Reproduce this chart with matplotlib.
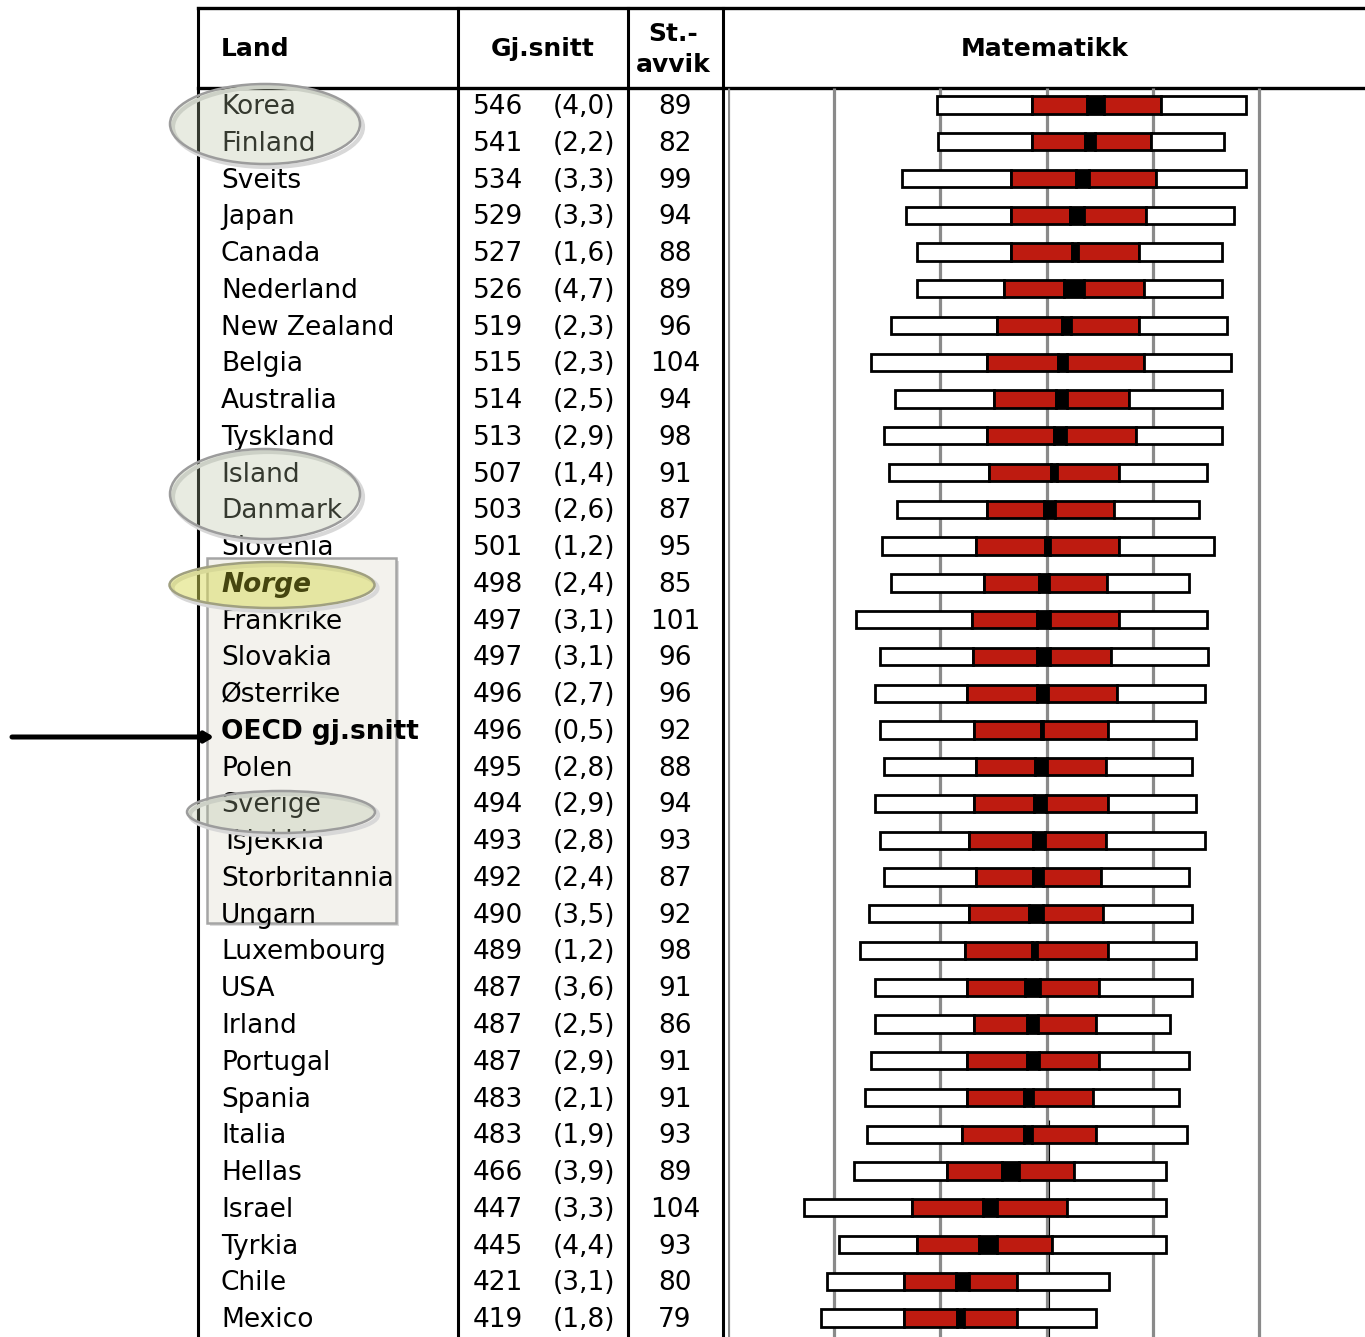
import matplotlib
matplotlib.use("Agg")
import matplotlib.pyplot as plt
from matplotlib.patches import Ellipse, Rectangle

countries = ["Korea", "Finland", "Sveits", "Japan", "Canada", "Nederland", "New Zealand",
             "Belgia", "Australia", "Tyskland", "Island", "Danmark", "Slovenia", "Norge",
             "Frankrike", "Slovakia", "Østerrike", "OECD gj.snitt", "Polen", "Sverige",
             "Tsjekkia", "Storbritannia", "Ungarn", "Luxembourg", "USA", "Irland", "Portugal",
             "Spania", "Italia", "Hellas", "Israel", "Tyrkia", "Chile", "Mexico"]
means = [546, 541, 534, 529, 527, 526, 519, 515, 514, 513, 507, 503, 501, 498, 497, 497, 496,
         496, 495, 494, 493, 492, 490, 489, 487, 487, 487, 483, 483, 466, 447, 445, 421, 419]
se = [4.0, 2.2, 3.3, 3.3, 1.6, 4.7, 2.3, 2.3, 2.5, 2.9, 1.4, 2.6, 1.2, 2.4, 3.1, 3.1, 2.7,
      0.5, 2.8, 2.9, 2.8, 2.4, 3.5, 1.2, 3.6, 2.5, 2.9, 2.1, 1.9, 3.9, 3.3, 4.4, 3.1, 1.8]
sd = [89, 82, 99, 94, 88, 89, 96, 104, 94, 98, 91, 87, 95, 85, 101, 96, 96, 92, 88, 94, 93,
      87, 92, 98, 91, 86, 91, 91, 93, 89, 104, 93, 80, 79]
p5 = [397, 398, 364, 368, 378, 378, 354, 335, 357, 347, 352, 359, 345, 354, 321, 343, 338,
      343, 347, 338, 343, 347, 333, 324, 338, 338, 335, 329, 331, 319, 272, 305, 293, 288]
p25 = [486, 486, 467, 467, 467, 460, 453, 444, 451, 444, 446, 444, 434, 441, 430, 431, 425,
       432, 434, 432, 427, 434, 427, 423, 425, 432, 425, 425, 420, 406, 373, 378, 366, 366]
p75 = [608, 598, 603, 594, 587, 592, 587, 592, 578, 584, 568, 564, 568, 557, 568, 561, 566,
       558, 556, 558, 556, 551, 553, 558, 549, 547, 549, 544, 547, 526, 519, 505, 472, 472]
p95 = [688, 667, 688, 677, 665, 665, 670, 674, 665, 665, 651, 644, 658, 634, 651, 652, 649,
       641, 637, 641, 649, 634, 637, 641, 637, 616, 634, 625, 632, 613, 613, 613, 559, 547]
grid_vals = [200, 300, 400, 500, 600, 700]
headers = ["Land", "Gj.snitt", "St.-", "avvik", "Matematikk"]

W, H = 1365, 1337
fig = plt.figure(figsize=(W / 100, H / 100), dpi=100)

# layout (pixels)
Y0, DY = 105.0, 36.76
X200, X800 = 728.0, 1365.0
HEAD_BOT, TOP = 88, 8
TY = 2.0  # text baseline nudge

tab = fig.add_axes([0, 0, 1, 1])
tab.set_xlim(0, W)
tab.set_ylim(H, 0)
tab.axis("off")

ax = fig.add_axes([X200 / W, 0, (X800 - X200) / W, 1])
ax.set_xlim(200, 800)
ax.set_ylim((H - Y0) / DY, -Y0 / DY)
ax.axis("off")

body = dict(family="DejaVu Sans", fontsize=19, color="black")

# grid lines in panel
y_top = (HEAD_BOT - Y0) / DY
y_bot = (H - Y0) / DY
ax.vlines(grid_vals, y_top, y_bot, colors="#8a8a8a", lw=2.3, zorder=1)
ax.vlines([502.4], (1120 - Y0) / DY, y_bot, colors="black", lw=0.8, zorder=1)

red = "#BE1B10"
bh = 0.47
elw = 2.0
for i in range(len(countries)):
    lo = means[i] - 1.96 * se[i]
    hi = means[i] + 1.96 * se[i]
    segs = [(p5[i], p25[i], "white"), (p25[i], lo, red), (lo, hi, "black"),
            (hi, p75[i], red), (p75[i], p95[i], "white")]
    for a, b, c in segs:
        ax.barh(i, b - a, left=a, height=bh, color=c, edgecolor="black", lw=elw, zorder=3)

# table lines
tab.plot([198, W], [TOP, TOP], color="black", lw=2.4)
tab.plot([198, W], [HEAD_BOT, HEAD_BOT], color="black", lw=2.4)
for x in [198, 458, 628, 723]:
    tab.plot([x, x], [TOP, H], color="black", lw=2.2, zorder=2)

# headers
hkw = dict(family="DejaVu Sans", fontsize=18, fontweight="bold", va="center")
tab.text(221, 49, headers[0], ha="left", **hkw)
tab.text(543, 49, headers[1], ha="center", **hkw)
tab.text(673, 34, headers[2], ha="center", **hkw)
tab.text(673, 65, headers[3], ha="center", **hkw)
tab.text(1045, 49, headers[4], ha="center", **hkw)

# highlight box with soft shadow
tab.add_patch(Rectangle((210, 561), 189, 365, facecolor="#dcdcdc", edgecolor="none", zorder=3.5))
tab.add_patch(Rectangle((207, 558), 189, 365, facecolor="#F3F2ED", edgecolor="#A5A5A5", lw=1.8, zorder=4))

for i, name in enumerate(countries):
    y = Y0 + i * DY + TY
    kw = dict(body)
    z = 5
    if name == "Slovenia":
        z = 3
    if name == "Norge":
        kw.update(fontweight="bold", fontstyle="italic", color="#45450F")
        z = 9
    if name.startswith("OECD"):
        kw.update(fontweight="bold")
    tab.text(221, y, name, ha="left", va="center", zorder=z, **kw)
    tab.text(473, y, f"{means[i]}", ha="left", va="center", zorder=5, **body)
    tab.text(553, y, f"({se[i]:.1f})".replace(".", ","), ha="left", va="center", zorder=5, **body)
    tab.text(675, y, f"{sd[i]}", ha="center", va="center", zorder=5, **body)

# ellipses
gfc = (0.70, 0.75, 0.62)
for (cx, cy, w, h) in [(265, 124, 190, 80), (265, 494, 190, 90), (281, 812, 188, 42)]:
    tab.add_patch(Ellipse((cx + 3, cy + 3), w, h, facecolor="none", edgecolor="#d8d8d8", lw=3, zorder=6))
    tab.add_patch(Ellipse((cx, cy), w, h, facecolor=gfc, alpha=0.3, edgecolor="none", zorder=7))
    tab.add_patch(Ellipse((cx, cy), w, h, facecolor="none", edgecolor="#9c9c9c", lw=1.8, zorder=7))
tab.add_patch(Ellipse((275, 588), 205, 46, facecolor="none", edgecolor="#d8d8d8", lw=3, zorder=6))
tab.add_patch(Ellipse((272, 585), 205, 46, facecolor=(0.85, 0.86, 0.35), alpha=0.5, edgecolor="none", zorder=7))
tab.add_patch(Ellipse((272, 585), 205, 46, facecolor="none", edgecolor="#a0a080", lw=1.8, zorder=7))

# arrow
tab.annotate("", xy=(214, 737), xytext=(12, 737),
             arrowprops=dict(arrowstyle="-|>,head_length=0.5,head_width=0.3", lw=3.6,
                             color="black", shrinkA=0, shrinkB=0), zorder=8)

fig.savefig("out.png", dpi=100)
